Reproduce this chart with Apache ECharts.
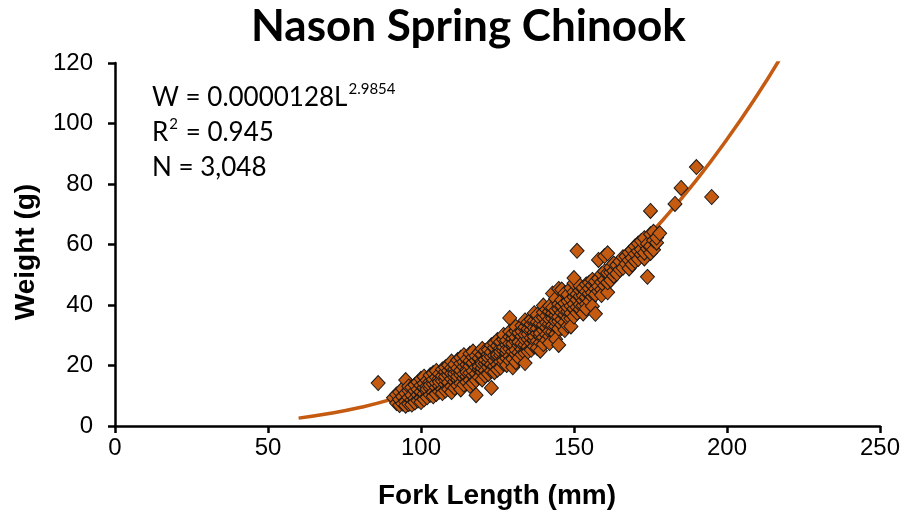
<!DOCTYPE html>
<html>
<head>
<meta charset="utf-8">
<script src="https://cdn.jsdelivr.net/npm/echarts@6/dist/echarts.min.js"></script>
<style>
html,body{margin:0;padding:0;background:#fff;}
#c{width:904px;height:516px;}
</style>
</head>
<body>
<div id="c"></div>
<script>
// Chart text
const titleText = 'Nason Spring Chinook';
const xAxisName = 'Fork Length (mm)';
const yAxisName = 'Weight (g)';

// Axis ticks
const xTicks = [0, 50, 100, 150, 200, 250];
const yTicks = [0, 20, 40, 60, 80, 100, 120];

// Trend line readings (fork length mm, weight g)
const trendLength = [60, 70, 80, 90, 100, 110, 120, 130, 140, 150, 160, 170, 180, 190, 200, 210, 217];
const trendWeight = [2.6, 4.1, 6.1, 8.7, 12.0, 15.9, 20.6, 26.2, 32.7, 40.2, 48.7, 58.3, 69.2, 81.3, 94.8, 109.6, 120.9];

// Observed fish: fork length (mm) and the weights (g) read at that length
const fishLengths = [86,91,92,93,94,95,96,97,98,99,100,101,102,103,104,105,106,107,108,109,110,111,112,113,114,115,116,117,118,119,120,121,122,123,124,125,126,127,128,129,130,131,132,133,134,135,136,137,138,139,140,141,142,143,144,145,146,147,148,149,150,151,152,153,154,155,156,157,158,159,160,161,162,163,164,165,166,167,168,169,170,171,172,173,174,175,176,177,178,183,185,190,195];
const fishWeights = [
  [14.2],
  [9.3],
  [7.6, 10.4],
  [6.9, 11.2, 8.8],
  [9.7, 12.3, 7.4],
  [8.1, 10.8, 15.2, 6.7],
  [7.3, 9.4, 11.7, 13.1],
  [8.6, 10.2, 12.8, 7.1],
  [9.1, 11.6, 13.6, 7.8],
  [10.3, 12.1, 14.5, 8.4],
  [9.2, 11.3, 13.4, 15.6, 7.9],
  [10.6, 12.7, 14.1, 16.3, 8.8],
  [11.4, 13.2, 9.5, 15.1, 12.2],
  [12.5, 14.7, 10.3, 16.8, 13.6],
  [11.1, 13.9, 15.4, 17.5, 9.8],
  [12.8, 14.3, 16.1, 10.6, 18.2],
  [13.3, 15.7, 17.2, 11.4, 14.6],
  [12.1, 14.9, 16.6, 18.7, 10.9],
  [13.8, 15.2, 17.9, 19.4, 11.7, 16.3],
  [14.4, 16.8, 18.3, 12.2, 20.1],
  [13.1, 15.6, 17.4, 19.2, 21.3, 11.2],
  [14.7, 16.2, 18.8, 20.4, 12.6, 17.3],
  [15.3, 17.7, 19.1, 21.8, 13.4, 16.4],
  [14.1, 16.9, 18.4, 20.7, 22.6, 12.1],
  [15.8, 17.2, 19.6, 21.2, 13.7, 23.4],
  [16.4, 18.6, 20.3, 22.1, 14.5, 17.8],
  [15.2, 17.6, 19.8, 21.5, 23.9, 13.3],
  [16.7, 18.2, 20.9, 22.8, 14.2, 24.6],
  [17.3, 19.4, 21.7, 23.2, 15.1, 10.2],
  [16.1, 18.8, 20.2, 22.4, 24.3, 19.7],
  [17.9, 19.2, 21.4, 23.6, 25.5, 15.4, 20.6],
  [18.3, 20.7, 22.2, 24.8, 16.6, 21.9],
  [19.5, 21.1, 23.7, 25.2, 17.2, 22.6],
  [18.2, 20.4, 22.9, 24.4, 26.7, 12.6],
  [19.8, 21.6, 23.3, 25.9, 27.4, 17.8],
  [20.3, 22.8, 24.1, 26.5, 18.6, 23.5, 28.4],
  [21.2, 23.4, 25.7, 27.8, 19.3, 24.6],
  [20.6, 22.3, 24.9, 26.1, 28.6, 21.7, 30.1],
  [22.4, 24.2, 26.8, 28.3, 20.2, 25.3],
  [23.1, 25.6, 27.3, 29.5, 21.6, 35.7, 31.2],
  [22.2, 24.7, 26.4, 28.9, 30.6, 19.4, 27.2],
  [23.8, 25.2, 27.9, 29.3, 31.4, 21.1, 32.8],
  [24.3, 26.6, 28.1, 30.8, 22.5, 27.7],
  [25.4, 27.2, 29.7, 31.3, 33.2, 23.6],
  [24.1, 26.9, 28.5, 30.2, 32.7, 20.8, 34.9],
  [26.2, 28.7, 30.4, 32.1, 24.6, 34.3],
  [27.5, 29.1, 31.8, 33.6, 35.2, 25.2],
  [26.3, 28.4, 30.9, 32.5, 34.8, 29.6, 37.3],
  [28.1, 30.6, 32.3, 34.4, 36.7, 25.8],
  [27.6, 29.8, 31.2, 33.9, 35.5, 24.9, 30.7],
  [29.3, 31.7, 33.4, 35.9, 37.6, 27.1, 39.8],
  [30.2, 32.6, 34.2, 36.4, 28.4, 38.5],
  [29.7, 31.4, 33.8, 35.3, 37.9, 39.6, 27.4],
  [31.1, 33.3, 35.6, 37.2, 39.1, 43.8],
  [30.4, 32.9, 34.7, 36.6, 38.2, 42.1, 28.7],
  [32.2, 34.6, 36.1, 38.7, 40.3, 26.8, 45.3],
  [33.5, 35.2, 37.4, 39.8, 41.6, 45.1],
  [34.3, 36.8, 38.3, 40.6, 43.9, 31.7],
  [33.1, 35.7, 37.9, 39.2, 41.3, 43.4],
  [35.6, 37.3, 39.7, 41.9, 45.6, 32.9],
  [36.2, 38.8, 40.4, 42.7, 44.3, 47.2, 48.9],
  [37.4, 39.3, 41.8, 43.6, 57.9],
  [38.6, 40.2, 42.9, 44.8, 46.3],
  [37.2, 39.9, 41.5, 43.1, 45.7],
  [40.3, 42.6, 44.4, 46.8, 38.8],
  [41.2, 43.8, 45.5, 47.4],
  [42.7, 44.1, 46.6, 48.3, 39.6],
  [37.1, 45.3, 47.8, 43.5],
  [44.6, 46.2, 48.8, 54.9],
  [45.1, 47.6, 50.2, 43.3],
  [46.4, 48.3, 51.1, 56.2],
  [44.2, 47.5, 50.6, 57.1],
  [48.2, 50.8, 52.4],
  [49.6, 51.3, 53.7],
  [50.4, 53.2],
  [51.7, 54.4],
  [52.3, 55.8],
  [53.6, 56.1],
  [52.1, 54.8, 57.3],
  [53.4, 55.6, 58.2],
  [54.5, 56.9, 59.4],
  [55.2, 57.8, 60.3],
  [56.7, 58.4, 61.2],
  [55.4, 57.3, 62.1],
  [49.3, 58.6, 60.2],
  [57.2, 59.5, 63.4, 71.1],
  [58.3, 61.4, 64.2],
  [60.6, 62.3],
  [63.7],
  [73.4],
  [78.7],
  [85.6],
  [75.7]
];

// Annotation text
const eqMain = 'W = 0.0000128L';
const eqExp = '2.9854';
const r2Main = 'R';
const r2Exp = '2';
const r2Rest = ' = 0.945';
const nLine = 'N = 3,048';

const orange = '#C55A11';

const trendData = trendLength.map((l, i) => [l, trendWeight[i]]);
const scatterData = [];
fishLengths.forEach((l, i) => fishWeights[i].forEach(w => scatterData.push([l, w])));

// text measuring for annotation superscripts
const annFont = 'Lato, sans-serif';
const annSize = 26;
const supSize = 15;
const mctx = document.createElement('canvas').getContext('2d');
function tw(t, size) { mctx.font = size + 'px ' + annFont; return mctx.measureText(t).width; }

const annLeft = 152;
const lineY = [98, 133, 168];
function txt(x, y, t, size) {
  return {type: 'text', x: x, y: y, style: {text: t, font: size + 'px ' + annFont, fill: '#000', verticalAlign: 'middle'}};
}
const axisNameFont = 'bold 28px "Liberation Sans", Arial, sans-serif';
const graphics = [
  txt(annLeft, lineY[0], eqMain, annSize),
  txt(annLeft + tw(eqMain, annSize) + 1, lineY[0] - 9, eqExp, supSize),
  txt(annLeft, lineY[1], r2Main, annSize),
  txt(annLeft + tw(r2Main, annSize) + 1, lineY[1] - 9, r2Exp, supSize),
  txt(annLeft + tw(r2Main, annSize) + tw(r2Exp, supSize) + 2, lineY[1], r2Rest, annSize),
  txt(annLeft, lineY[2], nLine, annSize),
  {type: 'text', x: 26, y: 252, rotation: Math.PI / 2,
   style: {text: yAxisName, font: axisNameFont, fill: '#000', align: 'center', verticalAlign: 'middle'}},
  {type: 'text', x: 497, y: 496,
   style: {text: xAxisName, font: axisNameFont, fill: '#000', align: 'center', verticalAlign: 'middle'}}
];

const chart = echarts.init(document.getElementById('c'), null, {renderer: 'canvas'});
const tickFont = {color: '#000', fontFamily: '"Liberation Sans", Arial, sans-serif', fontSize: 24};
const axisCommon = {
  axisLine: {show: true, onZero: false, lineStyle: {color: '#000', width: 2.5}},
  axisTick: {show: true, inside: false, length: 7, lineStyle: {color: '#000', width: 2.5}},
  splitLine: {show: false}
};

chart.setOption({
  backgroundColor: '#fff',
  animation: false,
  title: {
    text: titleText,
    left: 246,
    top: 0,
    textStyle: {fontFamily: 'Lato, "Open Sans", sans-serif', fontWeight: 'bold', fontSize: 44, color: '#000'}
  },
  grid: {left: 115, right: 24, top: 63, bottom: 90, containLabel: false},
  xAxis: Object.assign({
    type: 'value', min: xTicks[0], max: xTicks[xTicks.length - 1], interval: xTicks[1] - xTicks[0],
    axisLabel: Object.assign({margin: 10}, tickFont)
  }, axisCommon),
  yAxis: Object.assign({
    type: 'value', min: yTicks[0], max: yTicks[yTicks.length - 1], interval: yTicks[1] - yTicks[0],
    axisLabel: Object.assign({margin: 22}, tickFont)
  }, axisCommon),
  series: [
    {
      type: 'line', data: trendData, smooth: true, showSymbol: false, clip: true,
      lineStyle: {color: orange, width: 3.5}, silent: true, z: 2
    },
    {
      type: 'scatter', data: scatterData, symbol: 'diamond', symbolSize: [14, 15],
      itemStyle: {color: orange, borderColor: '#1a1a1a', borderWidth: 1, opacity: 1}, z: 3
    }
  ],
  graphic: graphics
});
</script>
</body>
</html>
